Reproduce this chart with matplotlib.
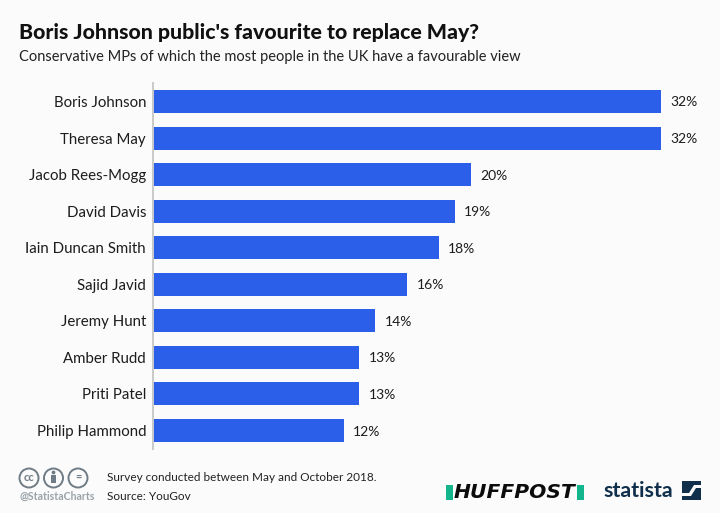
import matplotlib
matplotlib.use("Agg")
import matplotlib.pyplot as plt
from matplotlib.patches import Circle, Polygon, Rectangle

W, H = 720, 513

names = ["Boris Johnson", "Theresa May", "Jacob Rees-Mogg", "David Davis",
         "Iain Duncan Smith", "Sajid Javid", "Jeremy Hunt", "Amber Rudd",
         "Priti Patel", "Philip Hammond"]
values = [32, 32, 20, 19, 18, 16, 14, 13, 13, 12]

plt.rcParams["font.family"] = ["Lato", "DejaVu Sans"]
BG = "#fbfbfb"
BLUE = "#2b5fea"
DARK = "#1c1c1c"

fig = plt.figure(figsize=(W / 100, H / 100), dpi=100, facecolor=BG)

# overlay in pixel coords for title, footer, logos
ov = fig.add_axes([0, 0, 1, 1])
ov.set_xlim(0, W)
ov.set_ylim(H, 0)
ov.axis("off")

ov.text(19, 30.5, "Boris Johnson public's favourite to replace May?", fontsize=15.3,
        fontweight="black", color="#111111", va="center_baseline", ha="left")
ov.text(19, 56, "Conservative MPs of which the most people in the UK have a favourable view",
        fontsize=10.5, color="#222222", va="center_baseline", ha="left")

# bars
ax = fig.add_axes([153 / W, 1 - 448.8 / H, (W - 153) / W, 365.6 / H])
ax.patch.set_alpha(0)
pos = list(range(len(names)))
ax.barh(pos, values, height=0.63, color=BLUE)
ax.set_xlim(0, (W - 153) / 15.875)
ax.set_ylim(9.5, -0.5)
ax.set_yticks(pos, names)
ax.set_xticks([])
ax.tick_params(axis="y", length=0, pad=5, labelsize=10.8, labelcolor=DARK)
for side in ["top", "right", "bottom"]:
    ax.spines[side].set_visible(False)
ax.spines["left"].set_color("#c9c9c9")
ax.spines["left"].set_linewidth(1.4)
for p, v in zip(pos, values):
    ax.annotate(f"{v}%", (v, p), xytext=(6.8, 0), textcoords="offset points",
                va="center_baseline", ha="left", fontsize=10, color=DARK)

# cc icons
grey = "#6f7c85"
for cx, s in zip([29, 53.5, 78], ["cc", "", "="]):
    ov.add_patch(Circle((cx, 478), 9.5, fill=False, ec=grey, lw=1.4))
    if s:
        ov.text(cx, 477.5, s, fontsize=8, fontweight="bold", color=grey, ha="center", va="center")
ov.add_patch(Circle((53.5, 472.5), 1.9, color=grey, lw=0))
ov.add_patch(Rectangle((50.8, 475), 5.4, 8, color=grey, lw=0))
ov.text(19, 496.5, "@StatistaCharts", fontsize=7.6, fontweight="bold", color="#9aa3a9",
        va="center", ha="left")

ov.text(107, 476.5, "Survey conducted between May and October 2018.", fontsize=8.5,
        color="#222222", va="center_baseline", ha="left")
ov.text(107, 495.5, "Source: YouGov", fontsize=8.5, color="#222222", va="center_baseline", ha="left")

# huffpost logo
green = "#12b58c"
ov.add_patch(Rectangle((446, 485), 7, 15, color=green, lw=0))
ov.add_patch(Rectangle((577, 485), 7, 15, color=green, lw=0))
ov.text(515, 492.5, "HUFFPOST", fontsize=14.6, fontweight="bold", fontstyle="italic",
        family="DejaVu Sans", color="#0c0c0c", ha="center", va="center")

# statista logo
navy = "#102f4a"
ov.text(603, 491, "statista", fontsize=15.4, fontweight="bold", color=navy,
        ha="left", va="center")
ov.add_patch(Rectangle((682, 481), 19, 19, color=navy, lw=0))
ov.add_patch(Polygon([(682, 493), (689, 493), (694, 485), (701, 485), (701, 488), (696, 488),
                      (691, 496), (682, 496)], closed=True, color=BG, lw=0))

fig.savefig("out.png", dpi=100, facecolor=BG)
